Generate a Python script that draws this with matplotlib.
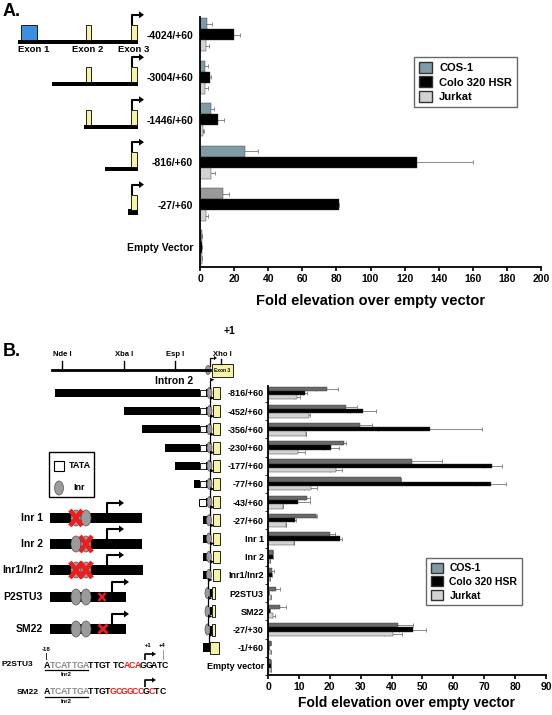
import numpy as np
import matplotlib.pyplot as plt
from matplotlib.patches import Rectangle, Ellipse, Polygon, Patch

plt.rcParams['font.family'] = ['Liberation Sans', 'DejaVu Sans']
plt.rcParams['font.weight'] = 'bold'

# panel A data
a_labels = ['-4024/+60', '-3004/+60', '-1446/+60', '-816/+60', '-27/+60', 'Empty Vector']
a_cos = [4.3, 2.7, 6.5, 26.6, 13.7, 1.0]
a_cos_err = [2.7, 2.0, 1.9, 7.2, 3.3, 0]
a_colo = [20.1, 5.9, 10.8, 127, 81.5, 1.0]
a_colo_err = [3.4, 0.8, 3.1, 33, 0, 0]
a_jur = [3.3, 3.1, 2.0, 6.5, 3.5, 1.0]
a_jur_err = [2.0, 1.8, 0.4, 2.5, 1.0, 0]

# panel B data
b_labels = ['-816/+60', '-452/+60', '-356/+60', '-230/+60', '-177/+60', '-77/+60',
            '-43/+60', '-27/+60', 'Inr 1', 'Inr 2', 'Inr1/Inr2', 'P2STU3', 'SM22',
            '-27/+30', '-1/+60', 'Empty vector']
b_cos = [19.0, 25.4, 29.9, 24.5, 46.6, 43.1, 12.6, 15.7, 20.2, 1.6, 1.3, 2.7, 4.0, 42.2, 1.0, 1.1]
b_cos_err = [3.6, 3.5, 3.9, 0.8, 9.6, 0, 0.9, 0.2, 1.6, 0, 0.5, 1.3, 1.9, 4.6, 0, 0]
b_colo = [11.9, 30.8, 52.4, 20.5, 72.6, 72.1, 9.7, 8.6, 23.3, 1.7, 1.2, 0.3, 0.6, 46.8, 0.2, 0.9]
b_colo_err = [0.6, 4.1, 16.9, 2.5, 3.0, 4.9, 3.8, 0.6, 0.5, 0, 0, 0, 0, 4.5, 0, 0]
b_jur = [9.4, 13.2, 12.4, 9.7, 22.1, 13.8, 4.9, 5.9, 8.4, 0.8, 0.6, 0.9, 1.7, 40.5, 1.0, 1.0]
b_jur_err = [0.9, 0.3, 0, 2.2, 1.9, 2.1, 0, 0, 0, 0, 0, 0, 0.5, 2.8, 0, 0]

series = ['COS-1', 'Colo 320 HSR', 'Jurkat']
c_cos = '#7f9ca5'
c_cos_b = '#6a6a6a'
c_colo = '#000000'
c_jur = '#d2d2d2'
yellow = '#f6f2a6'
W, H = 552, 715

fig = plt.figure(figsize=(W / 100, H / 100), dpi=100)


def px_axes(x0, y0, x1, y1):
    return fig.add_axes([x0 / W, 1 - y1 / H, (x1 - x0) / W, (y1 - y0) / H])


def bars(ax, vals, errs, colors, ngroups, h):
    y = np.arange(ngroups)
    for k in range(3):
        yy = y - h + k * h
        ax.errorbar(vals[k], yy, xerr=errs[k], fmt='none', ecolor='#8a8a8a',
                    elinewidth=0.7, capsize=1.5, capthick=0.7, zorder=1)
        ax.barh(yy, vals[k], height=h, color=colors[k], edgecolor='#333333',
                linewidth=0.3, zorder=2)


def style(ax, xmax, step, ngroups, lab, labsize, pad):
    ax.set_xlim(0, xmax)
    ax.set_xticks(np.arange(0, xmax + 1, step))
    ax.set_yticks(np.arange(ngroups))
    ax.set_yticklabels(lab, fontsize=labsize, fontweight='bold')
    ax.tick_params(axis='y', length=0, pad=pad)
    ax.tick_params(axis='x', length=3, width=1.2, labelsize=7.5, pad=2)
    for t in ax.get_xticklabels():
        t.set_fontweight('bold')
    for s in ['top', 'right']:
        ax.spines[s].set_visible(False)
    for s in ['left', 'bottom']:
        ax.spines[s].set_linewidth(1.3)


def legend(ax, anchor, size):
    ax.legend(handles=[Patch(facecolor=c, edgecolor='#333333', label=s)
                       for c, s in zip([c_cos, c_colo, c_jur], series)],
              loc='upper left', bbox_to_anchor=anchor, frameon=True, borderaxespad=0,
              fancybox=False, edgecolor='#444444', handlelength=1.2, handleheight=1.1,
              handletextpad=0.6, borderpad=0.45, labelspacing=0.3,
              prop={'weight': 'bold', 'size': size})


# ---------------- panel A bars
axA = px_axes(200, 17, 541, 267)
colsA = [[c_cos] * 6, [c_colo] * 6, [c_jur] * 6]
colsA[0][4] = '#9a9a9a'
bars(axA, [a_cos, a_colo, a_jur], [a_cos_err, a_colo_err, a_jur_err], colsA, 6, 0.26)
axA.set_ylim(5.47, -0.42)
style(axA, 200, 20, 6, a_labels, 7.5, 5)
axA.set_xlabel('Fold elevation over empty vector', fontsize=10.5, fontweight='bold', labelpad=7)
legend(axA, (0.628, 0.84), 8)

# ---------------- panel B bars
axB = px_axes(268, 386, 546, 675)
bars(axB, [b_cos, b_colo, b_jur], [b_cos_err, b_colo_err, b_jur_err],
     [c_cos_b, c_colo, c_jur], 16, 0.235)
axB.set_ylim(15.4, -0.38)
style(axB, 90, 10, 16, b_labels, 6.5, 3)
axB.set_yticks(np.arange(16) + 0.5, minor=True)
axB.tick_params(axis='y', which='minor', length=2, width=0.6)
axB.set_xlabel('Fold elevation over empty vector', fontsize=10, fontweight='bold', labelpad=3)
legend(axB, (0.568, 0.405), 7.5)

# ---------------- overlay for schematics (pixel coordinates)
ov = fig.add_axes([0, 0, 1, 1], zorder=5)
ov.set_xlim(0, W)
ov.set_ylim(H, 0)
ov.axis('off')
ov.patch.set_alpha(0)


def ypix(ax, v):
    return H - ax.transData.transform((0, v))[1]


def rect(x0, x1, y0, y1, fc, ec='black', lw=0.6):
    ov.add_patch(Rectangle((x0, y0), x1 - x0, y1 - y0, facecolor=fc, edgecolor=ec, linewidth=lw))


def oval(x, y, w, h, fc='#9b9b9b'):
    ov.add_patch(Ellipse((x, y), w, h, facecolor=fc, edgecolor='#555555', linewidth=0.5))


def bent_arrow(x, y0, y1, x1, lw=1.5, hw=3.5, hl=5):
    ov.plot([x, x, x1 - hl], [y0, y1, y1], color='black', lw=lw, solid_capstyle='butt')
    ov.add_patch(Polygon([(x1 - hl, y1 - hw), (x1, y1), (x1 - hl, y1 + hw)], closed=True,
                         facecolor='black', edgecolor='none'))


def flag(x, y):
    ov.plot([x, x], [y, y - 7], color='black', lw=0.9)
    ov.add_patch(Polygon([(x, y - 10), (x + 4.5, y - 8.3), (x, y - 6)], closed=True,
                         facecolor='black', edgecolor='none'))


def red_x(x, y, w, h, lw):
    ov.plot([x - w, x + w], [y - h, y + h], color='#ee1c1c', lw=lw, solid_capstyle='butt')
    ov.plot([x - w, x + w], [y + h, y - h], color='#ee1c1c', lw=lw, solid_capstyle='butt')


ov.text(3, 12, 'A.', fontsize=13, fontweight='bold', va='center')
ov.text(3, 352, 'B.', fontsize=13, fontweight='bold', va='center')

# panel A constructs
a_starts = [18, 52, 84, 105, 128]
for i, xs in enumerate(a_starts):
    yc = ypix(axA, i)
    base = yc + 7
    th = 4 if i < 4 else 6
    rect(xs, 138, base - th / 2, base + th / 2, 'black', lw=0)
    top = base - 17
    if i == 0:
        rect(21, 37, top, base - 2, '#3a8fe3')
    if i < 3:
        rect(86, 91, top, base - 2, yellow)
    rect(131, 137, top, base - 2, yellow)
    bent_arrow(132, top, top - 10, 144)
    if i == 0:
        for x, t in [(34, 'Exon 1'), (88, 'Exon 2'), (134, 'Exon 3')]:
            ov.text(x, base + 3, t, fontsize=6.8, fontweight='bold', ha='center', va='top')

# panel B restriction map
ov.plot([52, 210], [370, 370], color='black', lw=2)
for x, t in [(62, 'Nde I'), (124, 'Xba I'), (175, 'Esp I')]:
    ov.plot([x, x], [361, 370], color='black', lw=1)
    ov.text(x, 358, t, fontsize=5.5, fontweight='bold', ha='center', va='bottom')
ov.text(222, 358, 'Xho I', fontsize=5.5, fontweight='bold', ha='center', va='bottom')
ov.plot([221, 221], [359, 364], color='black', lw=1)
oval(208, 370, 5, 9)
rect(212, 233, 364, 377, yellow, lw=0.6)
ov.text(222.5, 370.5, 'Exon 3', fontsize=3.5, fontweight='bold', ha='center', va='center')
ov.plot([210, 210, 214], [366, 358, 358], color='black', lw=0.9)
ov.add_patch(Polygon([(214, 356), (217, 358), (214, 360)], facecolor='black'))
ov.text(229, 331, '+1', fontsize=7.5, fontweight='bold', ha='center', va='center')
ov.text(174, 376, 'Intron 2', fontsize=7.5, fontweight='bold', ha='center', va='top')

# panel B construct icons
b_starts = [55, 124, 142, 165, 175, 194]
for i in range(15):
    yc = ypix(axB, i)
    if i <= 5:
        rect(b_starts[i], 200, yc - 4, yc + 4, 'black', lw=0)
        rect(200, 205.5, yc - 3, yc + 3, 'white', lw=0.6)
        rect(205.5, 208, yc - 4, yc + 4, 'black', lw=0)
        oval(209.5, yc, 5, 11)
        rect(213, 220, yc - 6, yc + 6, yellow)
        flag(210, yc - 5)
    elif i == 6:
        rect(199, 205.5, yc - 3.5, yc + 3.5, 'white', lw=0.7)
        rect(205.5, 208, yc - 4, yc + 4, 'black', lw=0)
        oval(209.5, yc, 5, 11)
        rect(213, 220, yc - 6, yc + 6, yellow)
        flag(210, yc - 5)
    elif i <= 10:
        rect(202.5, 209, yc - 4, yc + 4, 'black', lw=0)
        oval(209, yc, 5, 11)
        rect(213, 220, yc - 6, yc + 6, yellow)
        flag(210, yc - 5)
    elif i <= 13:
        oval(207.5, yc, 5, 11)
        rect(209.5, 212, yc - 4, yc + 4, 'black', lw=0)
        rect(212, 214.5, yc - 6, yc + 6, yellow)
        flag(208, yc - 5)
    else:
        rect(203, 210, yc - 4.5, yc + 4.5, 'black', lw=0)
        rect(210, 219, yc - 6, yc + 6, yellow)
        flag(209, yc - 4.5)

# TATA / Inr key
rect(49, 94, 452, 497, 'white', lw=1)
rect(54, 64, 461, 471, 'white', lw=0.8)
ov.text(69, 466, 'TATA', fontsize=6.5, fontweight='bold', va='center')
oval(59, 488, 9, 14)
ov.text(73, 488, 'Inr', fontsize=6.5, fontweight='bold', va='center')

# mutant constructs
m_labels = ['Inr 1', 'Inr 2', 'Inr1/Inr2', 'P2STU3', 'SM22']
m_y = [518, 544, 570, 597, 629]
m_end = [142, 142, 143, 126, 126]
m_arrow = [107, 107, 107, 112, 112]
m_x = [[(76, 6, 8, 3.2)], [(86, 6, 8, 3.2)], [(76, 6, 8, 3.2), (86, 6, 8, 3.2)],
       [(102, 3.5, 4, 1.8)], [(103, 4.5, 4.5, 2.2)]]
for lab, y, xe, xa, xs in zip(m_labels, m_y, m_end, m_arrow, m_x):
    ov.text(43, y, lab, fontsize=7.5, fontweight='bold', ha='right', va='center')
    rect(50, xe, y - 5, y + 5, 'black', lw=0)
    oval(76, y, 10, 16)
    oval(86, y, 10, 16)
    bent_arrow(xa, y - 5, y - 15, xa + 17)
    for x, w, h, lw in xs:
        red_x(x, y, w, h, lw)

# sequences
p2_seq = 'ATCATTGATTGT TCACAGGATC'
p2_red = [15, 16, 17]
sm_seq = 'ATCATTGATTGTGCGGCCGCTC'
sm_red = [12, 13, 14, 15, 16, 17, 19]
inr_idx = range(1, 8)


def draw_seq(seq, red, x0, y, adv=5.5):
    x = x0
    for k, ch in enumerate(seq):
        if ch == ' ':
            x += 2.5
            continue
        col = '#ee1c1c' if k in red else ('#8c8c8c' if k in inr_idx else 'black')
        ov.text(x, y, ch, fontsize=6.3, fontweight='bold', color=col, ha='left', va='center')
        x += adv
    ov.plot([x0 + 0.5, 88], [y + 5, y + 5], color='black', lw=0.9)
    ov.text(66, y + 7, 'Inr2', fontsize=4.3, fontweight='bold', ha='center', va='top')


ov.text(1, 665, 'P2STU3', fontsize=6, fontweight='bold', va='center')
draw_seq(p2_seq, p2_red, 44, 665)
ov.text(46, 652, '-18', fontsize=4.3, fontweight='bold', ha='center', va='bottom')
ov.plot([46, 46], [653, 659], color='black', lw=0.6)
ov.text(148, 648, '+1', fontsize=4.3, fontweight='bold', ha='center', va='bottom')
ov.text(162, 648, '+4', fontsize=4.3, fontweight='bold', ha='center', va='bottom')
ov.plot([163, 163], [650, 659], color='#888888', lw=0.6)
bent_arrow(145, 660, 654, 156, lw=1.2, hw=2.5, hl=4)

ov.text(17, 692, 'SM22', fontsize=6, fontweight='bold', va='center')
draw_seq(sm_seq, sm_red, 44, 692)
bent_arrow(145, 687, 680, 156, lw=1.2, hw=2.5, hl=4)

fig.savefig('out.png', dpi=100)
